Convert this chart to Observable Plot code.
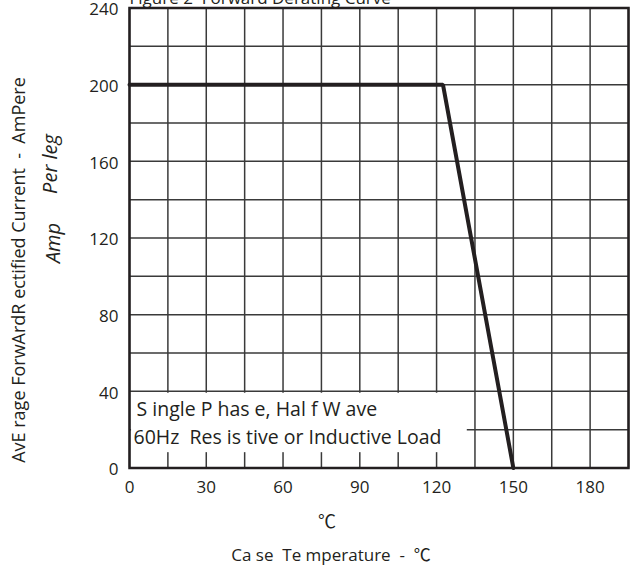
<!DOCTYPE html>
<html>
<head>
<meta charset="utf-8">
<script src="https://cdn.jsdelivr.net/npm/d3@7"></script>
<script src="https://cdn.jsdelivr.net/npm/@observablehq/plot@0.6"></script>
<style>
  html, body { margin: 0; padding: 0; background: #fff; }
  #chart svg { display: block; }
</style>
</head>
<body>
<div id="chart"></div>
<script>
// ---- data ----
const chartTitle = "Figure 2  Forward Derating Curve";
const caseTemp = [0, 122.5, 150];          // °C
const fwdCurrent = [200, 200, 0];          // A per leg
const xTickValues = [0, 30, 60, 90, 120, 150, 180];
const yTickValues = [0, 40, 80, 120, 160, 200, 240];
const xGridValues = [0, 15, 30, 45, 60, 75, 90, 105, 120, 135, 150, 165, 180, 195];
const yGridValues = [0, 20, 40, 60, 80, 100, 120, 140, 160, 180, 200, 220, 240];
const yLabelMain = "AvE rage ForwArdR ectified Current  -  AmPere";
const yLabelPer = "Per leg";
const yLabelAmp = "Amp";
const xUnitLabel = "\u2103";
const xLabel = "Ca se  Te mperature  -  \u2103";
const noteLines = ["S ingle P has e, Hal f W ave", "60Hz  Res is tive or Inductive Load"];
const noteArea = [{t1: 0.8, t2: 132, a1: 8, a2: 39}];

const curve = caseTemp.map((t, i) => ({t, a: fwdCurrent[i]}));
const ink = "#231f20";
const gridInk = "#3a3a3a";
const cjk = "'Open Sans', 'Noto Sans CJK SC', sans-serif";

const chart = Plot.plot({
  width: 632,
  height: 571,
  marginLeft: 129,
  marginRight: 4,
  marginTop: 7.5,
  marginBottom: 103.5,
  x: {domain: [0, 195]},
  y: {domain: [0, 240]},
  style: {fontFamily: cjk, fontSize: "17px", color: ink, background: "#fff"},
  marks: [
    Plot.ruleX(xGridValues, {stroke: gridInk, strokeWidth: 1.5}),
    Plot.ruleY(yGridValues, {stroke: gridInk, strokeWidth: 1.5}),
    Plot.rect(noteArea, {x1: "t1", x2: "t2", y1: "a1", y2: "a2", fill: "#fff"}),
    Plot.line(curve, {x: "t", y: "a", stroke: ink, strokeWidth: 4, strokeLinejoin: "miter"}),
    Plot.frame({stroke: ink, strokeWidth: 2.5}),
    Plot.axisX(xTickValues, {tickSize: 0, tickPadding: 13, fontSize: 17, label: null}),
    Plot.axisY(yTickValues, {tickSize: 0, tickPadding: 11, fontSize: 17, dy: 2, label: null}),
    Plot.text([chartTitle], {frameAnchor: "top-left", textAnchor: "start", lineAnchor: "bottom", dy: -4, fontSize: 17}),
    Plot.text([yLabelMain], {frameAnchor: "left", textAnchor: "middle", rotate: -90, dx: -110, dy: 32, fontSize: 18}),
    Plot.text([yLabelPer], {frameAnchor: "left", textAnchor: "middle", rotate: -90, dx: -79, dy: -74, fontSize: 20, fontStyle: "italic"}),
    Plot.text([yLabelAmp], {frameAnchor: "left", textAnchor: "middle", rotate: -90, dx: -76, dy: 5, fontSize: 20, fontStyle: "italic"}),
    Plot.text([xUnitLabel], {frameAnchor: "bottom", textAnchor: "middle", dx: -52, dy: 60, fontSize: 18, fontFamily: "'Noto Sans CJK SC', sans-serif"}),
    Plot.text([xLabel], {frameAnchor: "bottom", textAnchor: "middle", dx: -48, dy: 93, fontSize: 17}),
    Plot.text([noteLines[0]], {frameAnchor: "bottom-left", textAnchor: "start", lineAnchor: "bottom", dx: 7, dy: -52, fontSize: 19.5}),
    Plot.text([noteLines[1]], {frameAnchor: "bottom-left", textAnchor: "start", lineAnchor: "bottom", dx: 4, dy: -24, fontSize: 19.5})
  ]
});
document.getElementById("chart").appendChild(chart);
</script>
</body>
</html>
